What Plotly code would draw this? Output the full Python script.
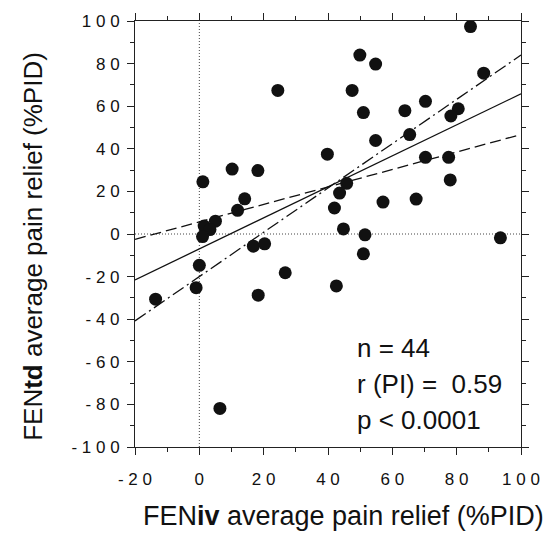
import plotly.graph_objects as go

# FENiv (x) and FENtd (y) average pain relief (%PID)
feniv = [24.4, 39.8, 10.2, 18.2, 1.1, 14.1, 11.9, 5.0, 1.5, 3.3,
         84.3, 49.9, 54.8, 88.4, 47.5, 70.3, 51.0, 63.9, 80.5, 78.2,
         65.4, 54.8, 70.3, 77.5, 45.8, 78.0, 43.6, 57.1, 67.4, 42.0,
         44.8, 51.5, 93.6, 51.0, 42.6, 1.0, 0.0, -1.0, -13.6, 16.8,
         20.3, 26.7, 18.3, 6.4]
fentd = [67.4, 37.5, 30.5, 29.8, 24.5, 16.5, 11.1, 6.0, 3.7, 2.1,
         97.4, 84.0, 79.8, 75.5, 67.4, 62.3, 57.0, 57.9, 58.8, 55.4,
         46.7, 43.9, 36.0, 36.0, 23.8, 25.4, 19.2, 15.0, 16.4, 12.2,
         2.4, -0.4, -1.8, -9.3, -24.4, -1.2, -14.7, -25.2, -30.6, -5.7,
         -4.6, -18.2, -28.7, -81.9]

# three fitted lines (slope, intercept) and their styles
fit_names = ["solid fit", "dashed fit", "dash-dot fit"]
fit_slopes = [0.728, 0.41, 1.04]
fit_intercepts = [-7.0, 5.7, -20.0]
fit_dashes = ["solid", "11px,5px", "13px,4px,2px,4px"]
fit_x = [-20, 100]

tick_vals_x = [-20, 0, 20, 40, 60, 80, 100]
tick_text_x = ["- 2 0", "0", "2 0", "4 0", "6 0", "8 0", "1 0 0"]
tick_vals_y = [-100, -80, -60, -40, -20, 0, 20, 40, 60, 80, 100]
tick_text_y = ["- 1 0 0", "- 8 0", "- 6 0", "- 4 0", "- 2 0", "0",
               "2 0", "4 0", "6 0", "8 0", "1 0 0"]

stats_lines = ["n = 44", "r (PI) =  0.59", "p < 0.0001"]

fig = go.Figure()

for name, m, b, d in zip(fit_names, fit_slopes, fit_intercepts, fit_dashes):
    fig.add_trace(go.Scatter(
        x=fit_x, y=[m * xv + b for xv in fit_x], mode="lines", name=name,
        line=dict(color="#111111", width=1.3, dash=d), hoverinfo="skip"))

fig.add_trace(go.Scatter(
    x=feniv, y=fentd, mode="markers", name="patients",
    marker=dict(color="#111111", size=13, line=dict(width=0))))

# zero reference lines
fig.add_shape(type="line", xref="x", yref="paper", x0=0, x1=0, y0=0, y1=1,
              line=dict(color="#444444", width=1, dash="1px,2px"), layer="below")
fig.add_shape(type="line", xref="paper", yref="y", x0=0, x1=1, y0=0, y1=0,
              line=dict(color="#444444", width=1, dash="1px,2px"), layer="below")

axis_common = dict(
    showgrid=False, zeroline=False, showline=True, linecolor="#222222",
    linewidth=1, mirror="ticks", ticks="outside", ticklen=7, tickwidth=1,
    tickcolor="#222222",
    tickfont=dict(family="Liberation Sans, Arial, sans-serif", size=17,
                  color="#111111"),
    minor=dict(ticks="outside", ticklen=4, tickwidth=1, tickcolor="#222222",
               dtick=10, showgrid=False),
)

fig.update_xaxes(range=[-20, 100], tickmode="array", tickvals=tick_vals_x,
                 ticktext=tick_text_x, ticklabelstandoff=10, **axis_common)
fig.update_yaxes(range=[-100, 100], tickmode="array", tickvals=tick_vals_y,
                 ticktext=tick_text_y, ticklabelstandoff=4, **axis_common)

font_title = dict(family="Liberation Sans, Arial, sans-serif", size=27,
                  color="#111111")
fig.add_annotation(text="FEN<b>iv</b> average pain relief (%PID)",
                   xref="paper", yref="paper", x=0.54, y=-0.163,
                   xanchor="center", yanchor="middle", showarrow=False,
                   font=font_title)
fig.add_annotation(text="FEN<b>td</b> average pain relief (%PID)",
                   xref="paper", yref="paper", x=-0.263, y=0.471,
                   xanchor="center", yanchor="middle", textangle=-90,
                   showarrow=False, font=dict(font_title, size=26))

stats_y = [0.233, 0.149, 0.063]
for txt, yy in zip(stats_lines, stats_y):
    fig.add_annotation(text=txt, xref="paper", yref="paper", x=0.57, y=yy,
                       xanchor="left", yanchor="middle", showarrow=False,
                       font=dict(family="Liberation Sans, Arial, sans-serif",
                                 size=26, color="#111111"))

fig.update_layout(
    width=552, height=537,
    margin=dict(l=135, r=22, t=18, b=90),
    paper_bgcolor="white", plot_bgcolor="white",
    showlegend=False,
)

fig.write_html("out.html", config={"displayModeBar": False},
               post_script="document.body.style.margin='0';"
                           "document.body.style.overflow='hidden';")
